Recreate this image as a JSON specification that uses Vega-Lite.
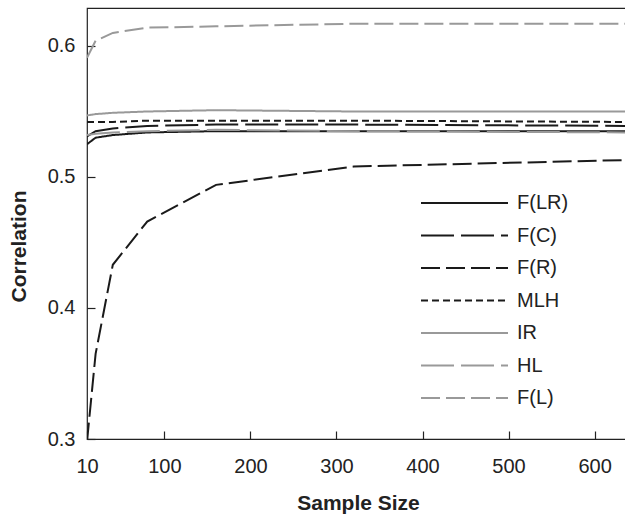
{
  "$schema": "https://vega.github.io/schema/vega-lite/v6.json",
  "autosize": {"type": "none"},
  "padding": {"left": 87, "top": 8, "right": 0, "bottom": 78},
  "width": 542,
  "height": 431,
  "config": {
    "font": "Liberation Sans",
    "view": {"stroke": "#222", "strokeWidth": 1.2},
    "axis": {"grid": false, "domain": false, "labelFlush": false, "labelOverlap": false, "tickColor": "#222", "tickSize": -8, "tickWidth": 1.2, "labelFontSize": 20, "labelColor": "#222", "titleFontSize": 21, "titleFontWeight": "bold", "titleColor": "#222"}
  },
  "data": {"values": [
    {"method": "F(LR)", "n": 10, "r": 0.525},
    {"method": "F(LR)", "n": 20, "r": 0.530},
    {"method": "F(LR)", "n": 40, "r": 0.532},
    {"method": "F(LR)", "n": 80, "r": 0.534},
    {"method": "F(LR)", "n": 160, "r": 0.535},
    {"method": "F(LR)", "n": 320, "r": 0.535},
    {"method": "F(LR)", "n": 640, "r": 0.535},
    {"method": "F(C)", "n": 10, "r": 0.531},
    {"method": "F(C)", "n": 20, "r": 0.535},
    {"method": "F(C)", "n": 40, "r": 0.537},
    {"method": "F(C)", "n": 80, "r": 0.539},
    {"method": "F(C)", "n": 160, "r": 0.540},
    {"method": "F(C)", "n": 320, "r": 0.540},
    {"method": "F(C)", "n": 640, "r": 0.539},
    {"method": "F(R)", "n": 10, "r": 0.298},
    {"method": "F(R)", "n": 20, "r": 0.365},
    {"method": "F(R)", "n": 40, "r": 0.433},
    {"method": "F(R)", "n": 80, "r": 0.466},
    {"method": "F(R)", "n": 160, "r": 0.494},
    {"method": "F(R)", "n": 320, "r": 0.508},
    {"method": "F(R)", "n": 640, "r": 0.513},
    {"method": "MLH", "n": 10, "r": 0.542},
    {"method": "MLH", "n": 20, "r": 0.542},
    {"method": "MLH", "n": 40, "r": 0.542},
    {"method": "MLH", "n": 80, "r": 0.543},
    {"method": "MLH", "n": 160, "r": 0.543},
    {"method": "MLH", "n": 320, "r": 0.543},
    {"method": "MLH", "n": 640, "r": 0.542},
    {"method": "IR", "n": 10, "r": 0.547},
    {"method": "IR", "n": 20, "r": 0.548},
    {"method": "IR", "n": 40, "r": 0.549},
    {"method": "IR", "n": 80, "r": 0.550},
    {"method": "IR", "n": 160, "r": 0.551},
    {"method": "IR", "n": 320, "r": 0.550},
    {"method": "IR", "n": 640, "r": 0.550},
    {"method": "HL", "n": 10, "r": 0.532},
    {"method": "HL", "n": 20, "r": 0.533},
    {"method": "HL", "n": 40, "r": 0.534},
    {"method": "HL", "n": 80, "r": 0.535},
    {"method": "HL", "n": 160, "r": 0.536},
    {"method": "HL", "n": 320, "r": 0.535},
    {"method": "HL", "n": 640, "r": 0.534},
    {"method": "F(L)", "n": 10, "r": 0.591},
    {"method": "F(L)", "n": 20, "r": 0.604},
    {"method": "F(L)", "n": 40, "r": 0.610},
    {"method": "F(L)", "n": 80, "r": 0.614},
    {"method": "F(L)", "n": 160, "r": 0.615},
    {"method": "F(L)", "n": 320, "r": 0.617},
    {"method": "F(L)", "n": 640, "r": 0.617}
  ]},
  "mark": {"type": "line", "strokeWidth": 2, "clip": true},
  "encoding": {
    "x": {"field": "n", "type": "quantitative", "scale": {"domain": [10, 640], "nice": false, "zero": false},
      "axis": {"values": [10, 100, 200, 300, 400, 500, 600], "title": "Sample Size", "labelPadding": 25, "titlePadding": 16}},
    "y": {"field": "r", "type": "quantitative", "scale": {"domain": [0.3, 0.629], "nice": false, "zero": false},
      "axis": {"values": [0.3, 0.4, 0.5, 0.6], "format": ".1f", "title": "Correlation", "labelPadding": 20, "titlePadding": 18, "titleY": 238}},
    "color": {"field": "method", "type": "nominal",
      "scale": {"domain": ["F(LR)", "F(C)", "F(R)", "MLH", "IR", "HL", "F(L)"], "range": ["#1a1a1a", "#1a1a1a", "#1a1a1a", "#1a1a1a", "#999999", "#999999", "#999999"]},
      "legend": {"orient": "none", "legendX": 333, "legendY": 183, "title": null, "symbolType": "stroke", "symbolSize": 7569, "symbolStrokeWidth": 2, "labelFontSize": 20, "labelColor": "#222", "clipHeight": 24, "rowPadding": 8.5, "labelOffset": 8}},
    "strokeDash": {"field": "method", "type": "nominal",
      "scale": {"domain": ["F(LR)", "F(C)", "F(R)", "MLH", "IR", "HL", "F(L)"], "range": [[1, 0], [33, 7], [19, 6], [7, 4], [1, 0], [33, 7], [19, 6]]},
      "legend": null}
  }
}
